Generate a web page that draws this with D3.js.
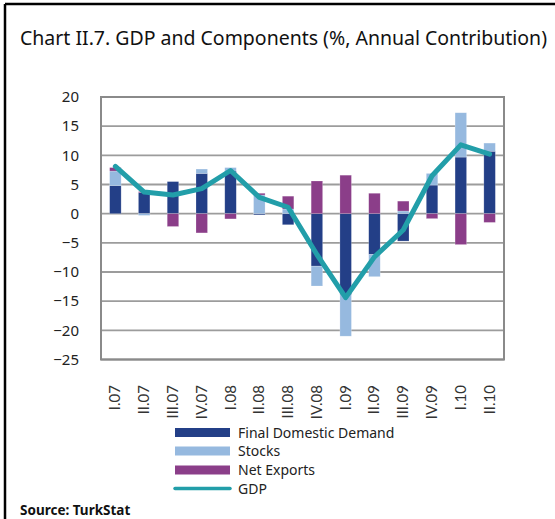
<!DOCTYPE html>
<html>
<head>
<meta charset="utf-8">
<script src="https://cdn.jsdelivr.net/npm/d3@7"></script>
<style>
  body { margin: 0; background: #fff; }
  svg { display: block; }
  svg text { font-family: "Noto Sans", sans-serif; }
</style>
</head>
<body>
<div id="chart"></div>
<script>
// quarters on the x axis
const quarters = ['I.07', 'II.07', 'III.07', 'IV.07', 'I.08', 'II.08', 'III.08', 'IV.08',
    'I.09', 'II.09', 'III.09', 'IV.09', 'I.10', 'II.10'];
// contributions, percentage points
const finalDemand = [4.8, 3.6, 5.5, 6.9, 7.3, -0.2, -1.9, -9.0, -13.9, -7.0, -4.7, 4.9, 9.7, 10.7];
const stocks = [2.5, -0.3, 0.0, 0.75, 0.6, 3.2, 0.8, -3.4, -7.1, -3.8, 0.45, 2.0, 7.6, 1.4];
const netExports = [0.6, 0.2, -2.2, -3.3, -0.9, 0.3, 2.2, 5.6, 6.6, 3.5, 1.7, -0.85, -5.3, -1.5];
const gdp = [8.1, 3.7, 3.2, 4.3, 7.4, 2.8, 1.1, -7.0, -14.4, -7.4, -2.8, 6.5, 11.8, 10.2];
const yTicks = [20, 15, 10, 5, 0, -5, -10, -15, -20, -25];

const seriesNames = ['Final Domestic Demand', 'Stocks', 'Net Exports'];
const colors = {
    'Final Domestic Demand': '#233f87',
    'Stocks': '#96b9df',
    'Net Exports': '#8b3e89',
    'GDP': '#229ea9',
};

const width = 555, height = 519;
const plot = { left: 101, right: 504, top: 97, bottom: 359.5 };
const font = '"Noto Sans", sans-serif';

const svg = d3.select('#chart').append('svg')
    .attr('width', width).attr('height', height);

// outer frame (top and left only are visible)
svg.append('line').attr('x1', 5).attr('x2', width).attr('y1', 4).attr('y2', 4)
    .attr('stroke', '#000').attr('stroke-width', 2.5);
svg.append('line').attr('x1', 5).attr('x2', 5).attr('y1', 4).attr('y2', height)
    .attr('stroke', '#000').attr('stroke-width', 2.5);

svg.append('text')
    .attr('x', 20).attr('y', 45)
    .attr('font-size', 19.5).attr('fill', '#111')
    .attr('textLength', 527).attr('lengthAdjust', 'spacing')
    .text('Chart II.7. GDP and Components (%, Annual Contribution)');

const x = d3.scaleBand().domain(quarters).range([plot.left, plot.right]).paddingInner(0.6).paddingOuter(0.3);
const y = d3.scaleLinear().domain([-25, 20]).range([plot.bottom, plot.top]);

// gridlines
svg.append('g').selectAll('line').data(yTicks).join('line')
    .attr('x1', plot.left).attr('x2', plot.right)
    .attr('y1', d => y(d)).attr('y2', d => y(d))
    .attr('stroke', '#9c9c9c').attr('stroke-width', 1.8);

// stacked bars: positives stack upward, negatives downward
const table = quarters.map((q, i) => ({
    q,
    'Final Domestic Demand': finalDemand[i],
    'Stocks': stocks[i],
    'Net Exports': netExports[i],
}));
const stack = d3.stack().keys(seriesNames).offset(d3.stackOffsetDiverging);
const layers = stack(table);

const bw = 11.5;
svg.append('g').selectAll('g').data(layers).join('g')
    .attr('fill', d => colors[d.key])
    .selectAll('rect').data(d => d).join('rect')
    .attr('x', d => x(d.data.q) + x.bandwidth() / 2 - bw / 2)
    .attr('width', bw)
    .attr('y', d => y(Math.max(d[0], d[1])))
    .attr('height', d => Math.abs(y(d[0]) - y(d[1])))
    .attr('stroke', '#fff').attr('stroke-opacity', 0.35).attr('stroke-width', 0.6);

// GDP line
const line = d3.line()
    .x((d, i) => x(quarters[i]) + x.bandwidth() / 2)
    .y(d => y(d));
svg.append('path').datum(gdp)
    .attr('d', line)
    .attr('fill', 'none')
    .attr('stroke', colors.GDP)
    .attr('stroke-width', 5)
    .attr('stroke-linejoin', 'round')
    .attr('stroke-linecap', 'round');

// plot frame
svg.append('rect')
    .attr('x', plot.left).attr('y', plot.top)
    .attr('width', plot.right - plot.left).attr('height', plot.bottom - plot.top)
    .attr('fill', 'none').attr('stroke', '#8a8a8a').attr('stroke-width', 2);

// y axis labels
const yAxis = d3.axisLeft(y).tickValues(yTicks).tickSize(0).tickPadding(22);
svg.append('g').attr('transform', `translate(${plot.left},0)`).call(yAxis)
    .call(g => g.select('.domain').remove())
    .call(g => g.selectAll('text')
        .attr('font-size', 15).attr('fill', '#222')
        .attr('font-family', font));

// x axis labels, rotated
svg.append('g').selectAll('text').data(quarters).join('text')
    .attr('transform', d => `translate(${x(d) + x.bandwidth() / 2 + 5},385) rotate(-90)`)
    .attr('text-anchor', 'end')
    .style('font-family', 'Lato, "DejaVu Sans", sans-serif')
    .attr('font-size', 15).attr('fill', '#333')
    .text(d => d);

// legend
const legend = svg.append('g');
const legendItems = seriesNames.concat(['GDP']);
const rowY = [432.5, 451, 470, 488.5];
legendItems.forEach((name, i) => {
    if (name === 'GDP') {
        legend.append('line')
            .attr('x1', 175).attr('x2', 230).attr('y1', rowY[i]).attr('y2', rowY[i])
            .attr('stroke', colors.GDP).attr('stroke-width', 3.5).attr('stroke-linecap', 'round');
    } else {
        legend.append('rect')
            .attr('x', 175).attr('y', rowY[i] - 4.5).attr('width', 55).attr('height', 9)
            .attr('fill', colors[name]);
    }
    legend.append('text')
        .attr('x', 238).attr('y', rowY[i] + 5)
        .attr('font-family', font)
        .attr('font-size', 14).attr('fill', '#222')
        .text(name);
});

svg.append('text')
    .attr('x', 20).attr('y', 515)
    .attr('font-family', font)
    .attr('font-size', 13.5).attr('font-weight', 'bold').attr('fill', '#111')
    .text('Source: TurkStat');
</script>
</body>
</html>
